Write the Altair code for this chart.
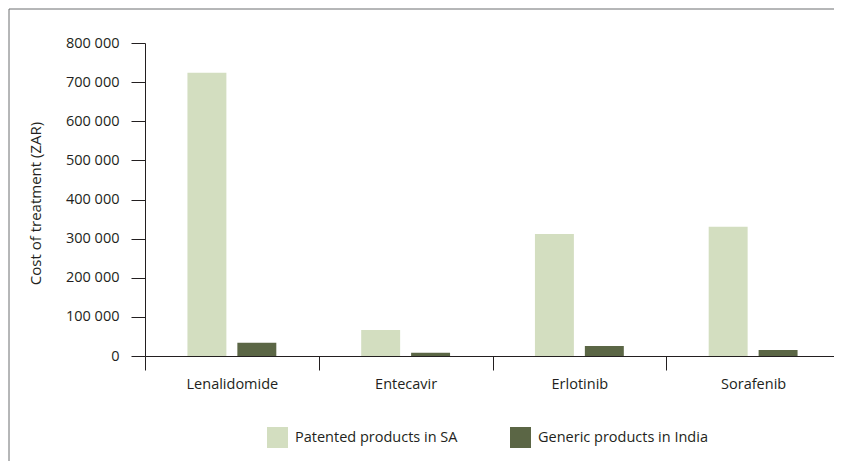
import altair as alt
import pandas as pd

drugs = ["Lenalidomide", "Entecavir", "Erlotinib", "Sorafenib"]
patented_sa = [724000, 66500, 312000, 330500]
generic_india = [34000, 8500, 25500, 15500]
series = ["Patented products in SA", "Generic products in India"]
colors = ["#D3DEC0", "#5B6645"]
y_ticks = [0, 100000, 200000, 300000, 400000, 500000, 600000, 700000, 800000]

rows = []
for d, p, g in zip(drugs, patented_sa, generic_india):
    rows.append({"drug": d, "series": series[0], "cost": p})
    rows.append({"drug": d, "series": series[1], "cost": g})
df = pd.DataFrame(rows)

FONT = "Open Sans"
INK = "#231F20"
FS = 14.5

bars = alt.Chart(df).mark_bar().encode(
    x=alt.X(
        "drug:N",
        sort=drugs,
        scale=alt.Scale(paddingInner=0, paddingOuter=0, range=[0, 695]),
        axis=alt.Axis(
            title=None, tickBand="extent", tickSize=14, labelPadding=7, labelAngle=0,
            domainColor=INK, tickColor=INK, labelColor=INK, labelFontSize=FS, labelFont=FONT,
        ),
    ),
    xOffset=alt.XOffset("series:N", sort=series,
                        scale=alt.Scale(paddingInner=0.22, paddingOuter=0.85)),
    y=alt.Y(
        "cost:Q",
        scale=alt.Scale(domain=[0, 800000], nice=False),
        axis=alt.Axis(
            values=y_ticks,
            labelExpr="replace(format(datum.value, ','), regexp(',', 'g'), ' ')",
            title="Cost of treatment (ZAR)", titleX=-110, titleY=160, titleAngle=-90,
            titleBaseline="middle", titleAlign="center", titleFontWeight="normal",
            titleFontSize=15, titleFont=FONT, titleColor=INK,
            grid=False, tickSize=14, labelPadding=12,
            domainColor=INK, tickColor=INK, labelColor=INK, labelFontSize=FS, labelFont=FONT,
        ),
    ),
    color=alt.Color(
        "series:N",
        sort=series,
        scale=alt.Scale(domain=series, range=colors),
        legend=alt.Legend(
            title=None, orient="none", legendX=122, legendY=384, direction="horizontal",
            symbolType="square", symbolSize=441, symbolStrokeWidth=0, symbolOpacity=1,
            columnPadding=52, labelOffset=7, labelFontSize=FS, labelFont=FONT, labelColor=INK,
            labelLimit=400,
        ),
    ),
)

frame_src = pd.DataFrame({"a": [0]})
frame_left = alt.Chart(frame_src).mark_rule(color="#6D6E71", strokeWidth=1).encode(
    x=alt.value(-136), y=alt.value(-34), y2=alt.value(422)
)
frame_top = alt.Chart(frame_src).mark_rule(color="#6D6E71", strokeWidth=1).encode(
    x=alt.value(-136), x2=alt.value(689), y=alt.value(-34)
)

chart = alt.layer(frame_left, frame_top, bars).properties(
    width=689,
    height=313,
    autosize=alt.AutoSizeParams(type="none"),
    padding={"left": 137, "top": 35, "right": 0, "bottom": 105},
).configure_view(strokeWidth=0, stroke="transparent")

chart.save("out.html", embed_options={"renderer": "svg", "actions": False})
